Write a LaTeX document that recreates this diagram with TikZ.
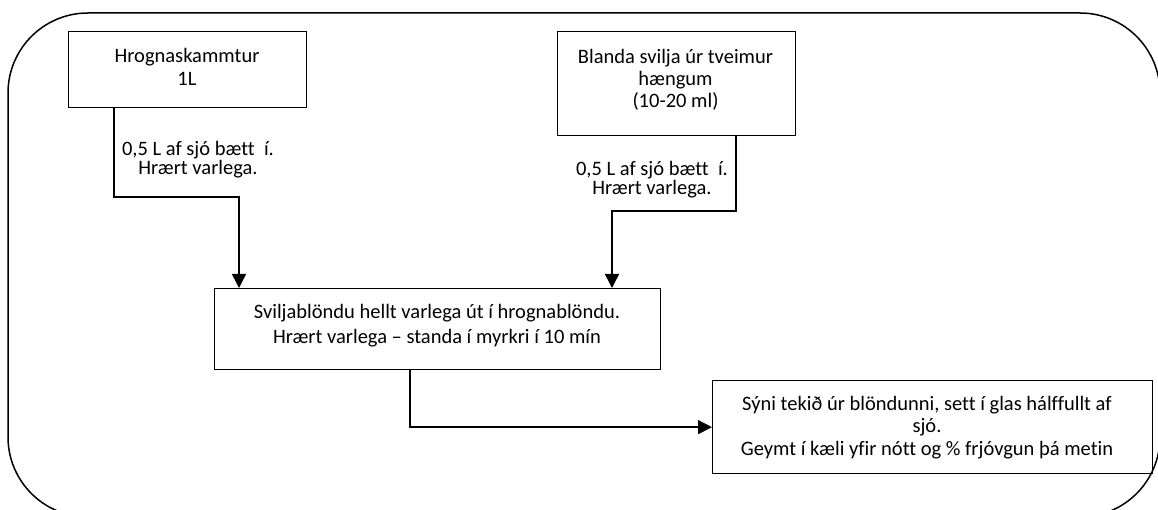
\documentclass[tikz,border=0pt]{standalone}
\usepackage{fontspec}
\setmainfont{Carlito}[Ligatures={NoCommon}]
\usetikzlibrary{arrows.meta,calc}
\newcommand\firstline{\rule{0pt}{17pt}}
\begin{document}
\begin{tikzpicture}[x=1pt,y=-1pt,
  box/.style={draw, line width=1.3pt, inner sep=0pt, anchor=north west},
  txt/.style={inner sep=0pt, anchor=north, align=center},
  conn/.style={line width=1.4pt},
  arr/.style={conn, -{Triangle[length=14pt,width=14pt]}}]
\useasboundingbox (0,0) rectangle (1158,510);
\begin{scope}
\clip (0,0) rectangle (1158,510);
\draw[line width=1.5pt, rounded corners=80pt] (8,13) rectangle (1160,517);
\end{scope}
% boxes
\node[box, minimum width=238pt, minimum height=76pt] (b1) at (68,31) {};
\node[box, minimum width=238pt, minimum height=104pt] (b2) at (557,31) {};
\node[box, minimum width=446pt, minimum height=81pt] (b3) at (214,288) {};
\node[box, minimum width=440pt, minimum height=93pt] (b4) at (712,380) {};
% box texts
\node[txt, font=\fontsize{20.5}{23}\selectfont] (t1) at (187,45) {\firstline Hrognaskammtur\\1L};
\node[txt, font=\fontsize{20.5}{22}\selectfont] (t2) at (675.5,46) {\firstline Blanda svilja úr tveimur\\hængum\\(10-20 ml)};
\node[txt, font=\fontsize{20.5}{25.5}\selectfont] (t3) at (437,301) {\firstline Sviljablöndu hellt varlega út í hrognablöndu.\\Hrært varlega – standa í myrkri í 10 mín};
\node[txt, font=\fontsize{20.5}{22.5}\selectfont] (t4) at (927,393) {\firstline Sýni tekið úr blöndunni, sett í glas hálffullt af\\sjó.\\Geymt í kæli yfir nótt og \% frjóvgun þá metin};
% connector labels
\node[txt, font=\fontsize{20.5}{19.5}\selectfont] (l1) at (198,138) {\firstline 0,5 L af sjó bætt\ \ í.\\Hrært varlega.};
\node[txt, font=\fontsize{20.5}{19.5}\selectfont] (l2) at (652,158) {\firstline 0,5 L af sjó bætt\ \ í.\\Hrært varlega.};
% connectors
\draw[arr] ($(b1.south west)+(46,0)$) |- ($(b3.north west)+(25,-91)$) -- ($(b3.north west)+(25,0)$);
\draw[arr] ($(b2.south west)+(179,0)$) |- ($(b3.north west)+(398,-77)$) -- ($(b3.north west)+(398,0)$);
\draw[arr] ($(b3.south west)+(196,0)$) |- (b4.west);
\end{tikzpicture}
\end{document}
